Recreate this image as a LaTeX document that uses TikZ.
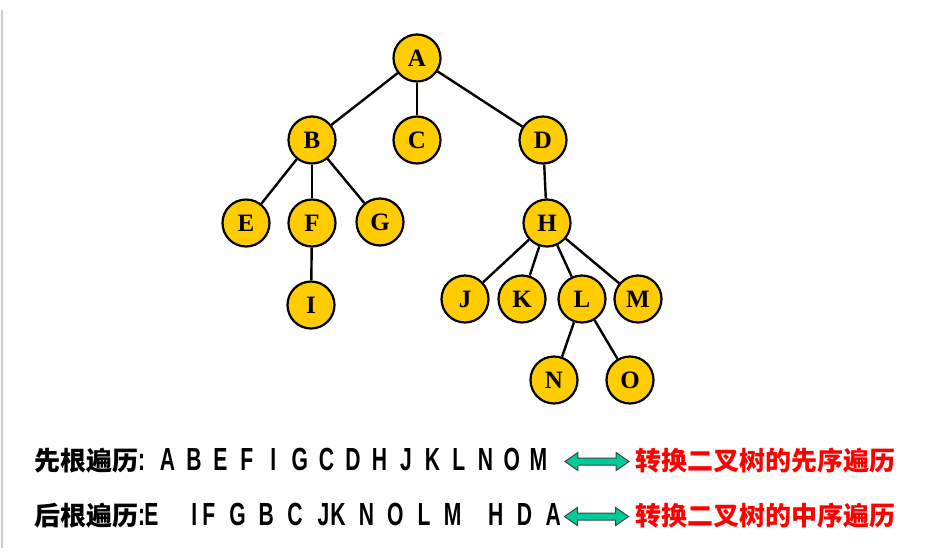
\documentclass[tikz,border=0pt]{standalone}
\usepackage{fontspec}
\setmainfont{Liberation Serif}
\newfontfamily\cjk{Noto Sans CJK SC}
\newfontfamily\seqfont[FakeStretch=0.66]{Liberation Sans}
\usetikzlibrary{shapes.arrows}
\definecolor{gold}{RGB}{255,204,0}
\definecolor{mint}{RGB}{0,204,153}
\newcommand\seqcells[2]{\foreach \ch in {#2}{\makebox[#1][c]{\ch}}}

\begin{document}
\begin{tikzpicture}[
    x=1pt, y=-1pt,
    vertex/.style={circle, draw, line width=2.2pt, fill=gold, minimum size=47pt, inner sep=0pt, font=\fontsize{25}{27}\selectfont\bfseries},
    link/.style={line width=2.4pt},
    walk/.style={inner sep=0pt, anchor=base west, font=\fontsize{26}{30}\selectfont\cjk\bfseries},
    seq/.style={inner sep=0pt, anchor=base west, font=\fontsize{32}{36}\selectfont\seqfont\bfseries},
    note/.style={inner sep=0pt, anchor=base west, text=red, font=\fontsize{26}{30}\selectfont\cjk\bfseries},
    swap/.style={double arrow, draw=black!75, line width=1pt, fill=mint, minimum height=64pt, inner sep=3pt, double arrow head extend=5.5pt, double arrow tip angle=70}
]
\useasboundingbox (0,0) rectangle (937,555);

% Page edge
\draw[black!20, line width=1.5pt] (2,10) -- (2,548);

% Tree
\node[vertex] (a) at (417,58) {A};
\node[vertex] (b) at (312,140) {B};
\node[vertex] (c) at (417,140) {C};
\node[vertex] (d) at (543,140) {D};
\node[vertex] (e) at (246,223) {E};
\node[vertex] (f) at (312,223) {F};
\node[vertex] (g) at (380,222) {G};
\node[vertex] (h) at (547,223) {H};
\node[vertex] (i) at (311,305) {I};
\node[vertex] (j) at (465,299) {J};
\node[vertex] (k) at (522,299) {K};
\node[vertex] (l) at (582,299) {L};
\node[vertex] (m) at (638,299) {M};
\node[vertex] (n) at (554,380) {N};
\node[vertex] (o) at (630,380) {O};

% Edges
\draw[link] (a) -- (b);
\draw[link] (a) -- (c);
\draw[link] (a) -- (d);
\draw[link] (b) -- (e);
\draw[link] (b) -- (f);
\draw[link] (b) -- (g);
\draw[link] (f) -- (i);
\draw[link] (d) -- (h);
\draw[link] (h) -- (j);
\draw[link] (h) -- (k);
\draw[link] (h) -- (l);
\draw[link] (h) -- (m);
\draw[link] (l) -- (n);
\draw[link] (l) -- (o);

% Preorder line
\node[walk] (prelab) at (34,470) {先根遍历{\fontsize{32}{36}\seqfont :}};
\node[seq] (preseq) at (154,470) {\seqcells{26.5pt}{A,B,E,F,I,G,C,D,H,J,K,L,N,O,M}};
\node[swap] (prearr) at (597,461.5) {};
\node[note] (prenote) at (635,470) {转换二叉树的先序遍历};

% Postorder line
\node[walk] (postlab) at (34,525) {后根遍历{\fontsize{32}{36}\seqfont :}};
\node[seq] (postseq) at (144,525) {\seqcells{14.35pt}{E,~,~,I,F,~,G,~,B,~,C,~,J,K,~,N,~,O,~,L,~,M,~,~,H,~,D,~,A}};
\node[swap] (postarr) at (596.5,516.5) {};
\node[note] (postnote) at (635,525) {转换二叉树的中序遍历};

\end{tikzpicture}
\end{document}
